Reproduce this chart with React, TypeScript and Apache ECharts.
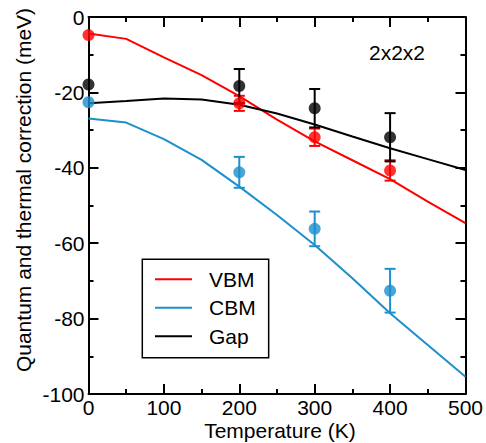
import React, { useEffect, useRef } from "react";
import * as echarts from "echarts";

const temps = [0, 50, 100, 150, 200, 250, 300, 350, 400, 450, 500];
const vbmLine = [-4.4, -5.8, -10.7, -15.4, -21, -27.2, -33, -38, -43, -49, -54.7];
const cbmLine = [-26.9, -28, -32.4, -37.9, -45, -52.5, -60.5, -69.3, -78.6, -87, -95.4];
const gapLine = [-22.9, -22.3, -21.6, -21.9, -23.3, -25.6, -28.5, -31.7, -34.8, -37.7, -40.6];

const dataT = [0, 200, 300, 400];
const vbmPts = [-4.8, -22.9, -31.9, -40.7];
const vbmErr = [0, 2, 2.3, 2.7];
const cbmPts = [-22.6, -41.2, -56.2, -72.6];
const cbmErr = [0, 4.1, 4.6, 5.8];
const gapPts = [-17.9, -18.3, -24.2, -31.9];
const gapErr = [0, 4.5, 5.1, 6.4];

const xTicks = [0, 100, 200, 300, 400, 500];
const yTicks = [-100, -80, -60, -40, -20, 0];

const RED = "#ff0000";
const BLUE = "#1c8fcd";
const BLACK = "#000000";
const FONT = "Liberation Sans, Arial, Helvetica, sans-serif";

function lineSeries(name: string, vals: number[], color: string) {
  return {
    name,
    type: "line",
    data: temps.map((t, i) => [t, vals[i]]),
    symbol: "none",
    lineStyle: { color, width: 2 },
    itemStyle: { color },
    z: 2,
  };
}

function errSeries(name: string, pts: number[], err: number[], color: string) {
  return {
    name,
    type: "custom",
    data: dataT.map((t, i) => [t, pts[i] - err[i], pts[i] + err[i]]),
    z: 3,
    clip: false,
    renderItem: (params: any, api: any) => {
      const x = api.value(0);
      const lo = api.value(1);
      const hi = api.value(2);
      if (hi - lo <= 0) return { type: "group", children: [] };
      const pLo = api.coord([x, lo]);
      const pHi = api.coord([x, hi]);
      const hw = 5.5;
      const st = { stroke: color, lineWidth: 2 };
      return {
        type: "group",
        children: [
          { type: "line", shape: { x1: pLo[0], y1: pLo[1], x2: pHi[0], y2: pHi[1] }, style: st },
          { type: "line", shape: { x1: pLo[0] - hw, y1: pLo[1], x2: pLo[0] + hw, y2: pLo[1] }, style: st },
          { type: "line", shape: { x1: pHi[0] - hw, y1: pHi[1], x2: pHi[0] + hw, y2: pHi[1] }, style: st },
        ],
      };
    },
  };
}

function ptSeries(name: string, pts: number[], color: string) {
  return {
    name,
    type: "scatter",
    data: dataT.map((t, i) => [t, pts[i]]),
    symbol: "circle",
    symbolSize: 12,
    itemStyle: { color },
    clip: false,
    z: 4,
  };
}

const tickStyle = { color: BLACK, width: 2 };

function xAxisCfg(main: boolean) {
  return {
    type: "value",
    position: main ? "bottom" : "top",
    min: xTicks[0],
    max: xTicks[xTicks.length - 1],
    interval: 100,
    axisLine: { show: true, onZero: false, lineStyle: { color: BLACK, width: 2 } },
    axisTick: { show: true, inside: true, length: 10, lineStyle: tickStyle },
    minorTick: { show: true, splitNumber: 2, length: 5, lineStyle: tickStyle },
    splitLine: { show: false },
    axisLabel: main
      ? { show: true, color: BLACK, fontSize: 21, fontFamily: FONT, margin: 3 }
      : { show: false },
  };
}

function yAxisCfg(main: boolean) {
  return {
    type: "value",
    position: main ? "left" : "right",
    min: yTicks[0],
    max: yTicks[yTicks.length - 1],
    interval: 20,
    axisLine: { show: true, onZero: false, lineStyle: { color: BLACK, width: 2 } },
    axisTick: { show: true, inside: true, length: 10, lineStyle: tickStyle },
    minorTick: { show: true, splitNumber: 2, length: 5, lineStyle: tickStyle },
    splitLine: { show: false },
    axisLabel: main
      ? { show: true, color: BLACK, fontSize: 21, fontFamily: FONT, margin: 4 }
      : { show: false },
  };
}

export default function App() {
  const ref = useRef<HTMLDivElement>(null);
  useEffect(() => {
    if (!ref.current) return;
    const chart = echarts.init(ref.current, undefined, { renderer: "svg" });
    chart.setOption({
      animation: false,
      backgroundColor: "#ffffff",
      textStyle: { fontFamily: FONT },
      grid: { left: 88.5, top: 17, width: 377.5, height: 377, containLabel: false },
      xAxis: [xAxisCfg(true), xAxisCfg(false)],
      yAxis: [yAxisCfg(true), yAxisCfg(false)],
      legend: {
        data: ["VBM", "CBM", "Gap"],
        orient: "vertical",
        left: 142.3,
        top: 259.3,
        icon: "rect",
        itemWidth: 37,
        itemHeight: 2,
        itemGap: 7.5,
        padding: [9.5, 13, 11, 12.7],
        borderColor: BLACK,
        borderWidth: 1.5,
        backgroundColor: "#ffffff",
        textStyle: { color: BLACK, fontSize: 21, fontFamily: FONT, padding: [0, 0, 0, 12] },
        selectedMode: false,
      },
      graphic: [
        {
          type: "text",
          left: 369,
          top: 42,
          style: { text: "2x2x2", fill: BLACK, fontSize: 21, fontFamily: FONT },
        },
        {
          type: "text",
          x: 280,
          y: 430,
          style: {
            text: "Temperature (K)",
            fill: BLACK,
            fontSize: 21,
            fontFamily: FONT,
            align: "center",
            verticalAlign: "middle",
          },
        },
        {
          type: "text",
          x: 23,
          y: 190,
          rotation: Math.PI / 2,
          style: {
            text: "Quantum and thermal correction (meV)",
            fill: BLACK,
            fontSize: 21,
            fontFamily: FONT,
            align: "center",
            verticalAlign: "middle",
          },
        },
      ],
      series: [
        lineSeries("VBM", vbmLine, RED),
        lineSeries("CBM", cbmLine, BLUE),
        lineSeries("Gap", gapLine, BLACK),
        errSeries("VBM err", vbmPts, vbmErr, RED),
        errSeries("CBM err", cbmPts, cbmErr, BLUE),
        errSeries("Gap err", gapPts, gapErr, BLACK),
        ptSeries("VBM data", vbmPts, RED),
        ptSeries("CBM data", cbmPts, BLUE),
        ptSeries("Gap data", gapPts, BLACK),
      ],
    });
    return () => chart.dispose();
  }, []);
  return (
    <div
      ref={ref}
      style={{ position: "fixed", left: 0, top: 0, width: 486, height: 443, background: "#fff" }}
    />
  );
}
